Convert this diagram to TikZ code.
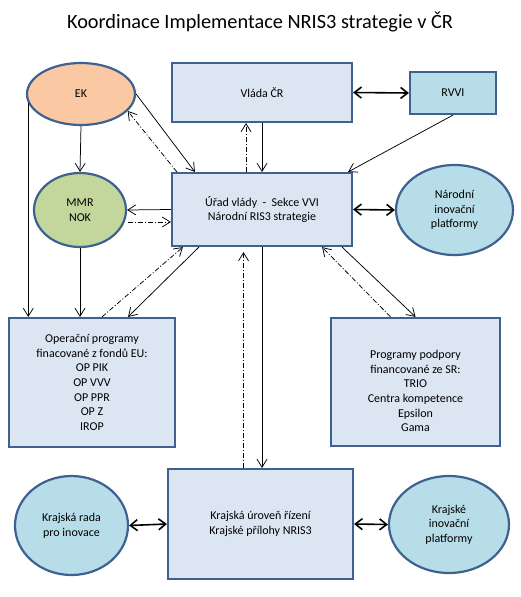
\documentclass[tikz,border=0pt]{standalone}
\usepackage{fontspec}
\setmainfont{Carlito}
\usetikzlibrary{arrows.meta,shapes.geometric}
\definecolor{rim}{HTML}{3F6190}
\definecolor{boxfill}{HTML}{DCE6F2}
\definecolor{aqua}{HTML}{B7DDE8}
\definecolor{peach}{HTML}{FAC8A2}
\definecolor{olive}{HTML}{C3D69B}
\begin{document}
\begin{tikzpicture}[x=1pt,y=-1pt,
    txt/.style={align=center,font=\fontsize{12}{14.7}\selectfont},
    box/.style={txt,draw=rim,line width=2.2pt,fill=boxfill,rectangle,inner sep=0pt},
    oval/.style={txt,draw=rim,line width=2.2pt,fill=aqua,ellipse,inner sep=0pt},
    arr/.style={line width=0.75pt,-{Straight Barb[length=8pt,width=10pt]}},
    dd/.style={arr,dash pattern=on 5pt off 2pt on 1pt off 2pt},
    dbl/.style={line width=1.6pt,{Straight Barb[length=7pt,width=11pt]}-{Straight Barb[length=7pt,width=11pt]}}]
    \useasboundingbox (0,0) rectangle (521,597);
    \node (title) at (260,22) {\fontsize{20.3}{23}\selectfont Koordinace Implementace NRIS3 strategie v ČR};
    % top row
    \node[oval,fill=peach,minimum width=108pt,minimum height=62pt] (ek) at (81,94) {EK};
    \node[box,minimum width=180pt,minimum height=59pt] (vlada) at (262,92.5) {Vláda ČR};
    \node[box,fill=aqua,minimum width=86pt,minimum height=42pt] (rvvi) at (453,93) {RVVI};
    % middle row
    \node[oval,fill=olive,minimum width=92pt,minimum height=74pt] (mmr) at (80,210) {MMR\\NOK};
    \node[box,minimum width=180pt,minimum height=73pt] (ured) at (262,209.5) {Úřad vlády \ - \ Sekce VVI\\Národní RIS3 strategie};
    \node[oval,minimum width=117pt,minimum height=90pt] (nip) at (454.5,210) {Národní\\inovační\\platformy};
    % programs
    \node[box,minimum width=166pt,minimum height=129pt] (op) at (92,382.5)
        {Operační programy\\finacované z fondů EU:\\OP PIK\\OP VVV\\OP PPR\\OP Z\\IROP};
    \node[box,minimum width=169pt,minimum height=128pt] (prog) at (415.5,382) {};
    \node[txt] (progtext) at ([yshift=-9pt]prog.center)
        {Programy podpory\\financované ze SR:\\TRIO\\Centra kompetence\\Epsilon\\Gama};
    % bottom row
    \node[oval,minimum width=113pt,minimum height=99pt] (krr) at (71.5,525.5) {Krajská rada\\pro inovace};
    \node[box,minimum width=185pt,minimum height=110pt] (kraj) at (260.5,524) {Krajská úroveň řízení\\Krajské přílohy NRIS3};
    \node[oval,minimum width=120pt,minimum height=97pt] (kip) at (449,524.5) {Krajské\\inovační\\platformy};
    % EK and MMR
    \draw[arr] (ek.south) -- (mmr.north);
    \draw[arr] (ek.190) -- (ek.190 |- op.north);
    \draw[arr] (mmr.south) -- (mmr.south |- op.north);
    \draw[arr] (ek.east) -- ([xshift=24pt]ured.north west);
    \draw[dd] ([xshift=6pt]ured.north west) -- (ek.-20);
    \draw[arr] (ured.west) -- (mmr.east);
    \draw[dd,shorten <=3pt] (mmr.-15) -- (mmr.-15 -| ured.west);
    % operacni programy
    \draw[dd] ([xshift=10pt]op.north) -- ([xshift=12pt]ured.south west);
    \draw[arr] ([xshift=28pt]ured.south west) -- ([xshift=36pt]op.north);
    % vlada, RVVI
    \draw[arr] (vlada.south) -- (ured.north);
    \draw[dd] ([xshift=-16pt]ured.north) -- ([xshift=-16pt]vlada.south);
    \draw[dbl] (vlada.east) -- (rvvi.west);
    \draw[arr] (rvvi.south) -- ([xshift=-5pt]ured.north east);
    \draw[dbl] (ured.east) -- (nip.west);
    % programy podpory
    \draw[arr] ([xshift=-11pt]ured.south east) -- (prog.north);
    \draw[dd] ([xshift=-25pt]prog.north) -- ([xshift=-31pt]ured.south east);
    % krajska uroven
    \draw[arr] (ured.south) -- (ured.south |- kraj.north);
    \draw[dd,shorten >=5pt] ([xshift=-17pt]kraj.north) -- ([xshift=-17pt]kraj.north |- ured.south);
    \draw[dbl] (krr.east) -- (kraj.west);
    \draw[dbl] (kraj.east) -- (kip.west);
\end{tikzpicture}
\end{document}
